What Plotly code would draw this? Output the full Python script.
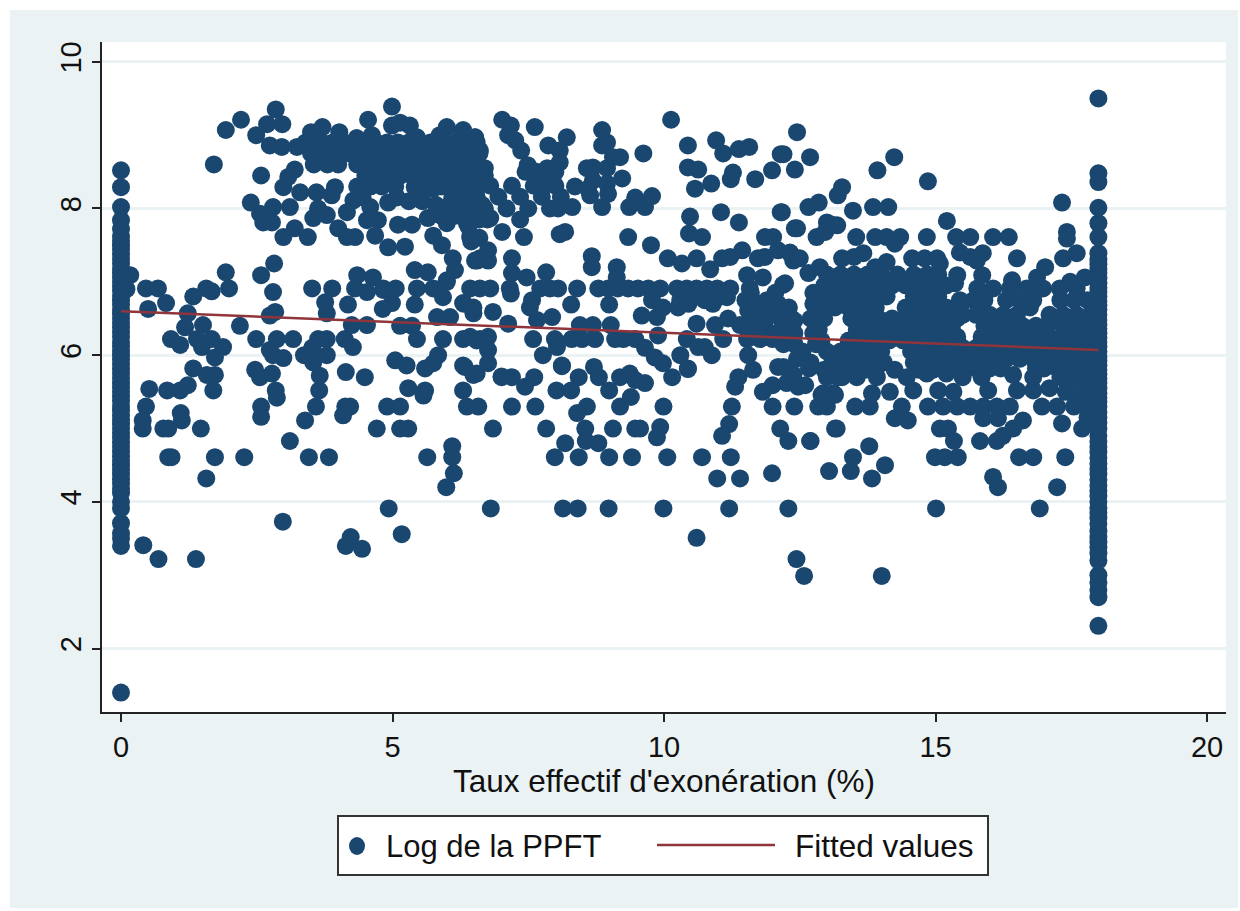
import plotly.graph_objects as go

# ---------- text ----------
x_title = "Taux effectif d'exonération (%)"
series_names = ["Log de la PPFT", "Fitted values"]
x_ticks = [0, 5, 10, 15, 20]
y_ticks = [2, 4, 6, 8, 10]

# ---------- fitted line ----------
fit_x = [0, 18]
fit_y = [6.6, 6.07]

# ---------- points stacked on the two bounds ----------
col_zero_y = [1.4, 3.4, 3.5, 3.57, 3.71, 3.91, 4.0, 4.12, 4.18, 4.25, 4.31, 4.38, 4.44, 4.5, 4.56, 4.62, 4.69, 4.75,
              4.81, 4.88, 4.94, 5.0, 5.06, 5.12, 5.18, 5.25, 5.31, 5.38, 5.44, 5.5, 5.56, 5.62, 5.69, 5.75, 5.81, 5.88,
              5.94, 6.0, 6.06, 6.12, 6.18, 6.25, 6.31, 6.38, 6.44, 6.5, 6.56, 6.62, 6.69, 6.75, 6.81, 6.88, 6.94, 7.0,
              7.06, 7.12, 7.18, 7.25, 7.31, 7.38, 7.44, 7.5, 7.56, 7.62, 7.72, 7.84, 8.02, 8.29, 8.52]
col_max_y = [2.31, 2.7, 2.8, 2.9, 3.0, 3.2, 3.3, 3.38, 3.45, 3.52, 3.6, 3.7, 3.78, 3.85, 3.92, 4.0, 4.08, 4.15, 4.22,
             4.3, 4.38, 4.45, 4.52, 4.6, 4.68, 4.75, 4.82, 4.9, 5.0, 5.08, 5.15, 5.22, 5.3, 5.36, 5.42, 5.48, 5.55,
             5.62, 5.68, 5.74, 5.8, 5.86, 5.92, 5.98, 6.05, 6.12, 6.18, 6.24, 6.3, 6.36, 6.42, 6.48, 6.55, 6.62, 6.68,
             6.74, 6.8, 6.86, 6.92, 6.98, 7.05, 7.12, 7.18, 7.24, 7.3, 7.39, 7.61, 7.8, 8.01, 8.36, 8.48, 9.5]

# ---------- visible horizontal rows: one y value, many x values ----------
row_y = [8.9, 8.75, 8.6, 8.45, 8.3, 8.15, 6.91, 6.22, 5.3, 4.61, 3.91,
         8.31, 8.16, 8.0, 7.85, 8.5,
         7.1, 6.95, 6.8, 6.65, 6.5, 6.35, 6.2, 6.05, 5.9, 5.8,
         6.75, 6.55, 6.4, 6.25, 6.1, 5.95, 5.82, 5.7, 5.52, 7.61]
row_x = [
    [3.4, 3.7, 3.9, 4.1, 4.3, 4.5, 4.7, 4.9, 5.1, 5.3, 5.5, 5.7, 5.95, 6.15, 6.35, 6.55],
    [3.5, 3.75, 4.0, 4.2, 4.45, 4.65, 4.85, 5.05, 5.25, 5.5, 5.75, 5.95, 6.2, 6.4, 6.6],
    [3.55, 3.8, 4.0, 4.35, 4.6, 4.8, 5.0, 5.2, 5.4, 5.6, 5.85, 6.1, 6.3, 6.5],
    [4.5, 4.7, 4.95, 5.15, 5.35, 5.55, 5.8, 6.05, 6.25, 6.45, 6.7],
    [4.35, 4.6, 4.8, 5.05, 5.6, 5.9, 6.2, 6.4, 6.55],
    [4.45, 6.1, 6.35],
    [0.46, 0.68, 1.57, 1.99, 3.52, 3.89, 4.31, 4.83, 5.06, 5.45, 5.75, 6.43, 6.61, 6.8, 7.16, 7.72, 7.9, 8.05, 8.4,
     8.79, 8.97, 9.15, 9.34, 9.52, 9.71, 9.93, 10.24, 10.42, 10.6, 10.79, 10.98, 11.22, 11.58, 15.77, 16.06, 16.37,
     16.68, 16.98, 17.29, 17.6],
    [0.92, 1.4, 1.67, 2.49, 2.87, 3.17, 3.63, 3.79, 4.12, 5.45, 5.93, 6.3, 6.61, 7.59, 7.99, 8.3, 8.49, 8.73, 9.1,
     9.25, 9.47, 10.42, 11.09, 11.53, 11.77, 12.0],
    [0.46, 2.58, 3.59, 4.13, 4.22, 4.9, 5.14, 6.37, 6.58, 7.2, 7.63, 8.58, 9.19, 9.99, 11.25, 12.0, 12.4, 12.84,
     13.0, 13.52, 13.79, 14.38, 14.86, 15.14, 15.4, 15.64, 15.88, 16.13, 16.37, 16.96, 17.24, 17.55, 17.8],
    [0.87, 0.93, 1.73, 2.27, 3.46, 3.83, 5.64, 6.1, 7.99, 8.43, 8.99, 9.41, 10.06, 10.7, 11.23, 13.48, 14.99, 15.17,
     15.41, 16.54, 16.8, 17.39],
    [4.93, 6.81, 8.14, 8.41, 8.98, 9.99, 11.2, 12.29, 15.01, 16.92],
    [6.6, 6.8, 7.2, 7.6, 7.8, 8.0],
    [6.55, 6.95, 7.35, 7.75, 8.1],
    [6.7, 7.1, 7.5, 7.9, 8.05],
    [6.75, 7.35],
    [7.45, 7.65, 7.85, 8.0],
    [13.0, 13.25, 13.5, 13.75, 14.0, 14.3, 14.6, 14.85, 15.05],
    [12.95, 13.2, 13.45, 13.7, 13.95, 14.2, 14.45, 14.7, 14.95, 15.2],
    [12.85, 13.1, 13.35, 13.6, 13.85, 14.1, 14.6, 14.85, 15.05],
    [12.9, 13.15, 13.4, 13.65, 13.9, 14.45, 14.7, 14.95, 15.2, 15.45],
    [12.95, 13.45, 13.7, 13.95, 14.2, 14.45, 14.7, 14.95, 15.2, 15.4],
    [12.85, 13.55, 13.8, 14.05, 14.3, 14.55, 14.8, 15.05, 15.3],
    [12.9, 13.4, 13.65, 13.9, 14.15, 14.4, 14.65, 14.9, 15.15, 15.4],
    [13.0, 13.25, 13.5, 13.75, 14.0, 14.55, 14.8, 15.05, 15.3],
    [13.1, 13.35, 13.6, 13.85, 14.05, 14.6, 14.85, 15.1, 15.35],
    [12.95, 13.2, 13.45, 13.7, 13.9, 14.25, 14.7, 14.95],
    [15.45, 15.7, 15.9, 16.3, 16.55, 16.8, 17.3, 17.55, 17.8],
    [15.5, 15.75, 16.0, 16.25, 16.5, 17.1, 17.35, 17.6, 17.85],
    [15.3, 15.9, 16.15, 16.4, 16.6, 16.85, 17.05, 17.35, 17.6, 17.85],
    [15.4, 15.85, 16.1, 16.35, 16.6, 16.85, 17.1, 17.35, 17.6, 17.85],
    [15.5, 15.75, 16.0, 16.25, 16.5, 16.75, 17.0, 17.25, 17.5, 17.75],
    [15.6, 15.85, 16.1, 16.3, 16.55, 16.8, 17.05, 17.3, 17.55, 17.8],
    [15.5, 15.75, 16.0, 16.2, 16.85, 17.0, 17.25, 17.5, 17.75],
    [7.01, 7.2, 7.61, 8.43, 8.8, 9.19, 10.15, 11.37, 13.0, 13.28, 13.55, 13.92, 14.47, 15.5, 15.85, 16.8, 17.3, 17.55,
     17.8],
    [0.85, 1.09, 2.85, 3.65, 5.6, 6.3, 8.02, 8.29, 8.99, 14.59, 15.97, 16.5, 16.8],
    [3.44, 7.42, 9.34, 10.7, 13.54, 13.89, 14.1, 14.35, 14.84, 15.38, 15.64, 16.06, 16.35],
]

# ---------- scattered points read one by one: (x, y) ----------
pts_upper_left = [
    (2.85, 9.35), (2.21, 9.21), (1.93, 9.07), (2.69, 9.15), (2.97, 9.15), (2.49, 9.0), (2.74, 8.86), (2.96, 8.84),
    (3.24, 8.84), (3.5, 9.04), (3.71, 9.11), (4.02, 9.04), (4.55, 9.21), (4.99, 9.39), (4.34, 8.96), (4.62, 9.0),
    (4.99, 9.13), (5.14, 9.17), (5.32, 9.13), (5.45, 8.97), (6.0, 9.11), (5.87, 9.0), (6.28, 9.04), (6.52, 8.97),
    (1.71, 8.6), (2.58, 8.45), (3.2, 8.53), (3.08, 8.43), (2.99, 8.29), (3.3, 8.22), (3.6, 8.22), (3.94, 8.29),
    (3.88, 8.18), (2.39, 8.08), (2.56, 7.93), (2.8, 8.02), (3.11, 8.02), (2.62, 7.81), (2.78, 7.81), (3.2, 7.73),
    (2.99, 7.61), (3.54, 7.87), (3.63, 8.0), (3.79, 7.91), (4.28, 8.11), (4.59, 8.02), (4.16, 7.95), (4.0, 7.73),
    (4.16, 7.61), (4.31, 7.61), (4.53, 7.84), (4.73, 7.84), (4.68, 7.63), (4.92, 7.47), (5.23, 7.48), (5.1, 7.78),
    (5.36, 7.78), (5.65, 7.87), (4.92, 8.08), (5.08, 8.15), (5.75, 7.63), (5.91, 7.5), (6.11, 7.32), (6.15, 7.16),
    (6.0, 7.02), (6.56, 7.29), (6.43, 7.61), (6.0, 8.02), (6.0, 7.8), (6.37, 7.8), (6.52, 8.29), (5.75, 8.27),
    (5.41, 8.29), (6.3, 8.05), (6.5, 8.0), (6.35, 7.9), (6.65, 8.05), (6.6, 7.85), (6.4, 7.75), (6.6, 7.6),
    (6.45, 7.55), (5.8, 8.05), (5.55, 8.1), (5.3, 8.1), (5.9, 7.9), (6.15, 7.9),
]
pts_mid_left = [
    (1.93, 7.13), (2.82, 7.25), (2.58, 7.09), (0.17, 7.09), (0.1, 6.9), (2.8, 6.86), (1.67, 6.87), (1.33, 6.8),
    (0.83, 6.71), (0.5, 6.63), (3.76, 6.72), (4.18, 6.69), (3.79, 6.57), (4.35, 7.09), (4.64, 7.06), (4.53, 6.86),
    (4.83, 6.89), (4.99, 6.71), (4.82, 6.63), (5.41, 6.69), (5.41, 7.16), (5.65, 7.13), (5.93, 6.79), (6.0, 7.0),
    (6.3, 6.71), (5.82, 6.52), (6.06, 6.52), (6.49, 6.57), (2.84, 6.59), (2.74, 6.54), (1.23, 6.57), (1.51, 6.41),
    (1.18, 6.38), (2.19, 6.4), (4.53, 6.41), (4.25, 6.41), (5.14, 6.4), (5.36, 6.4), (1.09, 6.14), (1.49, 6.11),
    (1.88, 6.11), (1.73, 5.97), (2.74, 6.07), (2.99, 5.96), (2.8, 6.0), (3.52, 6.1), (3.37, 6.0), (3.79, 6.0),
    (3.54, 5.9), (4.27, 6.11), (5.05, 5.93), (5.26, 5.86), (5.6, 5.82), (5.84, 6.0), (5.75, 5.89), (6.3, 5.86),
    (6.55, 6.2), (1.33, 5.82), (1.58, 5.73), (1.73, 5.73), (1.7, 5.52), (1.23, 5.59), (0.52, 5.54), (0.4, 5.11),
    (0.4, 5.0), (0.78, 5.0), (0.87, 5.0), (1.1, 5.21), (1.12, 5.11), (1.47, 5.0), (1.57, 4.32), (2.47, 5.8),
    (2.56, 5.7), (2.78, 5.75), (2.87, 5.42), (2.58, 5.16), (3.66, 5.72), (3.39, 5.11), (4.14, 5.77), (4.49, 5.7),
    (4.09, 5.18), (4.71, 5.0), (5.14, 5.0), (5.29, 5.0), (5.29, 5.55), (5.57, 5.45), (6.49, 5.73), (3.11, 4.83),
    (6.1, 4.76), (6.13, 4.39), (5.99, 4.2), (2.98, 3.73), (5.17, 3.56), (4.23, 3.52), (4.14, 3.4), (4.44, 3.36),
    (0.41, 3.41), (0.69, 3.22), (1.38, 3.22),
]
pts_lower_middle = [
    (10.6, 3.51), (12.44, 3.22), (12.58, 2.99), (11.99, 4.39), (13.04, 4.42), (10.98, 4.32), (11.4, 4.32),
    (8.18, 4.8), (8.56, 4.83), (8.79, 4.8), (8.55, 5.0), (9.06, 5.0), (9.47, 5.0), (9.56, 5.0), (9.93, 5.02),
    (9.87, 4.88), (11.2, 5.06), (11.07, 4.9), (12.14, 5.0), (12.29, 4.83), (12.69, 4.83), (13.15, 5.0), (6.85, 5.0),
    (7.83, 5.0), (8.4, 5.21), (12.93, 5.48), (13.12, 5.48), (11.31, 5.57), (7.44, 5.57), (7.01, 5.71), (8.71, 5.84),
    (9.39, 5.43), (9.37, 5.75), (9.65, 5.62), (9.47, 5.66), (10.44, 5.81), (8.12, 5.85), (11.82, 5.5), (12.0, 5.59),
    (12.26, 5.62), (12.47, 5.57), (12.38, 5.73), (12.67, 5.82), (12.1, 5.84), (11.64, 5.8), (13.2, 5.7),
]
pts_upper_middle = [
    (7.02, 9.21), (7.18, 9.13), (7.62, 9.11), (7.13, 9.0), (7.26, 8.93), (7.37, 8.79), (7.49, 8.59), (8.21, 8.97),
    (7.87, 8.86), (8.08, 8.79), (8.08, 8.63), (7.85, 8.55), (8.86, 9.07), (8.86, 8.86), (8.95, 8.9), (9.19, 8.7),
    (9.06, 8.7), (9.62, 8.75), (9.23, 8.41), (8.69, 8.56), (8.58, 8.55), (8.95, 8.55), (8.36, 8.3), (8.6, 8.27),
    (8.69, 8.38), (8.95, 8.34), (8.97, 8.2), (8.64, 8.18), (8.86, 8.02), (8.31, 8.02), (9.36, 8.02), (9.47, 8.15),
    (9.65, 8.02), (9.78, 8.17), (10.13, 9.21), (10.44, 8.86), (10.96, 8.93), (11.09, 8.75), (11.38, 8.81),
    (11.57, 8.84), (12.45, 9.04), (10.44, 8.56), (10.63, 8.53), (10.57, 8.27), (10.87, 8.34), (11.23, 8.4),
    (11.27, 8.49), (11.68, 8.4), (11.99, 8.52), (12.15, 8.74), (12.41, 8.53), (10.48, 7.89), (11.05, 7.95),
    (11.38, 7.81), (12.15, 7.95), (10.46, 7.66), (11.86, 7.61), (12.01, 7.61), (12.41, 7.73), (9.76, 7.5),
    (8.18, 7.68), (8.08, 7.65), (7.02, 7.68), (6.8, 7.87), (6.61, 8.79), (6.52, 8.97), (6.3, 9.07), (6.7, 8.55),
    (6.61, 7.32), (6.76, 7.43), (6.52, 7.29), (6.76, 7.29), (7.2, 7.32), (8.67, 7.35), (8.67, 7.2), (9.13, 7.2),
    (9.13, 7.06), (10.07, 7.32), (10.33, 7.25), (10.6, 7.32), (10.85, 7.17), (11.07, 7.32), (11.22, 7.34),
    (11.44, 7.43), (11.73, 7.32), (11.86, 7.34), (12.1, 7.43), (12.32, 7.39), (12.38, 7.29), (7.83, 7.13),
    (7.2, 7.12), (7.47, 7.06), (11.82, 7.06), (12.19, 6.96), (11.53, 7.09), (7.18, 6.84), (7.53, 6.65), (7.57, 6.75),
    (8.29, 6.69), (8.99, 6.69), (9.59, 6.54), (9.78, 6.75), (9.87, 6.52), (9.98, 6.65), (10.26, 6.65), (11.16, 6.79),
    (7.66, 6.48), (7.94, 6.52), (6.85, 6.59), (6.49, 6.65), (6.32, 6.7), (7.13, 6.43), (8.45, 6.41), (8.69, 6.41),
    (9.02, 6.41), (10.6, 6.43), (10.94, 6.41), (11.18, 6.5), (11.4, 6.41), (11.71, 6.57), (11.55, 6.61), (12.28, 6.61),
    (12.1, 6.57), (12.26, 6.38), (12.4, 6.47), (9.89, 6.27), (7.77, 6.0), (8.12, 5.86), (8.03, 6.11), (9.65, 6.1),
    (9.83, 5.97), (9.98, 5.89), (10.3, 6.0), (10.44, 5.82), (10.63, 6.11), (10.88, 6.0), (10.75, 6.11), (11.55, 6.0),
    (12.5, 6.0), (6.76, 6.25), (6.76, 6.07), (6.76, 5.89), (6.43, 6.25), (6.33, 5.84), (6.55, 5.75), (11.6, 6.85),
    (11.75, 6.7), (11.9, 6.75), (12.05, 6.85), (12.0, 6.55), (11.85, 6.45), (11.5, 6.75), (11.6, 6.4), (11.8, 6.35),
    (12.05, 6.3), (12.2, 6.45), (10.3, 6.75), (10.45, 6.7), (10.6, 6.8), (10.75, 6.75), (10.9, 6.7), (11.05, 6.8),
]
pts_right = [
    (12.2, 8.74), (12.69, 8.7), (14.24, 8.7), (13.93, 8.52), (14.86, 8.37), (13.28, 8.29), (13.2, 8.18), (17.33, 8.08),
    (13.48, 7.97), (13.85, 8.02), (14.13, 8.02), (12.85, 8.08), (12.66, 8.02), (12.17, 7.95), (15.21, 7.83),
    (13.0, 7.81), (13.19, 7.77), (13.1, 7.78), (12.45, 7.73), (12.81, 7.61), (12.97, 7.68), (14.25, 7.52),
    (17.42, 7.68), (17.42, 7.59), (16.5, 7.32), (17.6, 7.39), (17.35, 7.32), (17.02, 7.2), (16.87, 7.06), (12.32, 7.4),
    (12.5, 7.32), (12.87, 7.2), (12.66, 7.12), (12.23, 6.98), (13.28, 7.32), (13.67, 7.39), (13.5, 7.34), (14.1, 7.27),
    (13.89, 7.2), (14.57, 7.32), (14.8, 7.32), (15.03, 7.32), (15.08, 7.25), (15.45, 7.4), (15.87, 7.39), (15.64, 7.34),
    (15.76, 7.29), (15.4, 7.09), (15.36, 6.98), (15.86, 7.09), (16.41, 7.02), (17.75, 7.06), (17.48, 7.0), (12.1, 6.7),
    (12.3, 6.65), (12.15, 6.5), (12.35, 6.5), (12.2, 6.35), (12.4, 6.3), (12.2, 6.15), (12.4, 6.15), (12.55, 6.05),
    (12.7, 5.9), (12.45, 5.95), (12.69, 5.84), (12.2, 5.84), (12.38, 5.73), (12.75, 6.85), (12.75, 6.7), (12.7, 6.5),
    (12.75, 6.3), (12.8, 6.15), (12.8, 6.38), (16.74, 6.65), (17.4, 5.5), (17.65, 5.5), (17.85, 5.5), (17.6, 5.35),
    (17.8, 5.15), (17.24, 4.2), (16.15, 4.2), (16.06, 4.34), (14.01, 2.99), (14.07, 4.5), (13.83, 4.32), (13.44, 4.42),
    (13.78, 4.76), (12.7, 4.83), (13.18, 5.0), (15.08, 5.0), (15.23, 5.0), (15.34, 4.83), (15.82, 4.83), (16.13, 4.83),
    (16.24, 4.9), (16.43, 5.0), (16.61, 5.11), (17.33, 5.07), (17.7, 5.0), (14.25, 5.14), (14.49, 5.11), (15.88, 5.14),
    (16.15, 5.14), (12.9, 5.46), (13.15, 5.46), (13.83, 5.48), (14.16, 5.5), (15.05, 5.52), (15.33, 5.5), (17.1, 5.55),
    (14.84, 5.75), (15.2, 5.75), (16.43, 5.73), (12.6, 5.59),
]

# ---------- assemble the scatter from the arrays above ----------
scatter_x, scatter_y = [], []
for v in col_zero_y:
    scatter_x.append(0); scatter_y.append(v)
for v in col_max_y:
    scatter_x.append(18); scatter_y.append(v)
for yv, xs in zip(row_y, row_x):
    for xv in xs:
        scatter_x.append(xv); scatter_y.append(yv)
for group in (pts_upper_left, pts_mid_left, pts_lower_middle, pts_upper_middle, pts_right):
    for xv, yv in group:
        scatter_x.append(xv); scatter_y.append(yv)

NAVY = "#1a476f"
MAROON = "#90353b"
BG = "#eaf2f3"
INK = "#111111"
FONT = "Liberation Sans"
W, H = 1240, 911
PL, PR, PT, PB = 102, 1226, 42, 712


def px(v):
    return (v - PL) / (PR - PL)


def py(v):
    return (PB - v) / (PB - PT)


fig = go.Figure()
fig.add_trace(go.Scatter(x=scatter_x, y=scatter_y, mode="markers", name=series_names[0],
                         marker=dict(color=NAVY, size=18, line=dict(width=0)), showlegend=False))
fig.add_trace(go.Scatter(x=fit_x, y=fit_y, mode="lines", name=series_names[1],
                         line=dict(color=MAROON, width=2.5), showlegend=False))


def rect(x0, y0, x1, y1, fill, line=None, layer="below"):
    return dict(type="rect", xref="paper", yref="paper", x0=px(x0), x1=px(x1), y0=py(y0), y1=py(y1),
                fillcolor=fill, line=dict(color=line or fill, width=2 if line else 0), layer=layer)


shapes = [
    rect(10, 10, 1238, 908, BG),
    rect(PL, PT, PR, PB, "white"),
    rect(338, 816, 988, 875, "white", line="#333333"),
    dict(type="circle", xref="paper", yref="paper", x0=px(349), x1=px(365), y0=py(837), y1=py(855),
         fillcolor=NAVY, line=dict(width=0), layer="below"),
    dict(type="line", xref="paper", yref="paper", x0=px(657), x1=px(775), y0=py(845), y1=py(845),
         line=dict(color=MAROON, width=2.5), layer="below"),
]

annotations = [
    dict(text=series_names[0], xref="paper", yref="paper", x=px(384), y=py(846), xanchor="left", yanchor="middle",
         showarrow=False, font=dict(family=FONT, size=31, color=INK)),
    dict(text=series_names[1], xref="paper", yref="paper", x=px(793), y=py(846), xanchor="left", yanchor="middle",
         showarrow=False, font=dict(family=FONT, size=31.5, color=INK)),
]

fig.update_layout(
    width=W, height=H, margin=dict(l=PL, r=W - PR, t=PT, b=H - PB, pad=0, autoexpand=False),
    paper_bgcolor="white", plot_bgcolor="white", showlegend=False,
    font=dict(family=FONT, color=INK), shapes=shapes, annotations=annotations,
    xaxis=dict(range=[-0.35, 20.35], tickvals=x_ticks, ticks="outside", ticklen=8, tickwidth=1.5, tickcolor="#222222",
               showline=True, linecolor="#222222", linewidth=1.5, showgrid=False, zeroline=False,
               tickfont=dict(size=29, family=FONT, color=INK),
               title=dict(text=x_title, font=dict(size=31.5, family=FONT, color=INK), standoff=6)),
    yaxis=dict(range=[1.135, 10.27], tickvals=y_ticks, ticks="outside", ticklen=8, tickwidth=1.5, tickcolor="#222222",
               showline=True, linecolor="#222222", linewidth=1.5, showgrid=True, gridcolor=BG, gridwidth=2.5,
               zeroline=False, tickangle=-90, tickfont=dict(size=29, family=FONT, color=INK)),
)

fig.write_html("out.html", config={"displayModeBar": False},
               post_script="document.body.style.margin='0';document.body.style.overflow='hidden';")
